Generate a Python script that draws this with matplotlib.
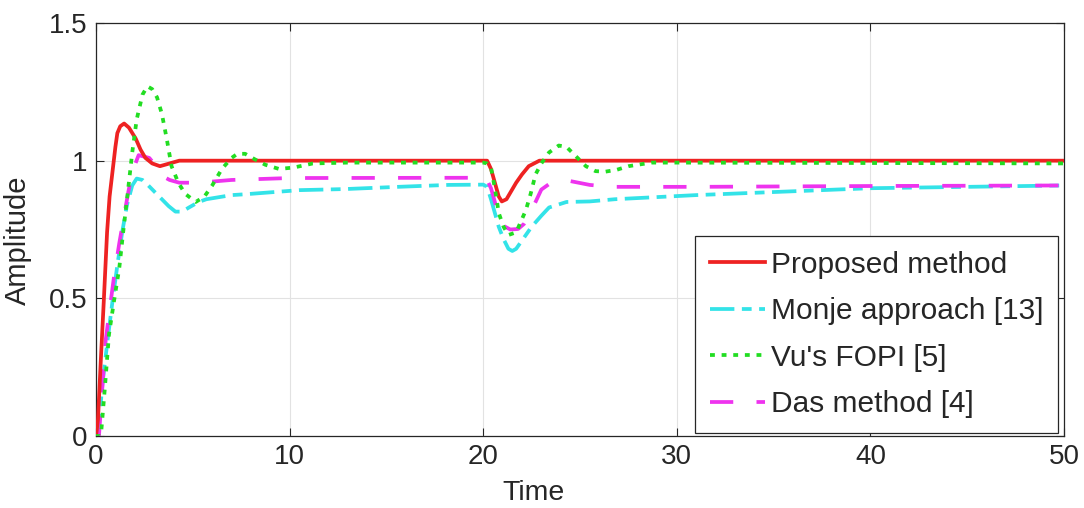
import matplotlib.pyplot as plt

plt.rcParams['font.family'] = ['Liberation Sans', 'DejaVu Sans']

# Proposed method
t_prop = [0, 0.1, 0.25, 0.4, 0.57, 0.7, 0.85, 1.0, 1.1, 1.25, 1.45, 1.7, 2.05, 2.3, 2.55, 2.9,
          3.3, 3.8, 4.3, 5, 10, 20.2, 20.4, 20.6, 20.8, 20.96, 21.2, 21.45, 21.7, 22.0, 22.35,
          22.9, 24, 30, 50]
y_prop = [0, 0.06, 0.28, 0.49, 0.74, 0.87, 0.96, 1.05, 1.1, 1.125, 1.135, 1.12, 1.08, 1.04, 1.01,
          0.99, 0.98, 0.99, 1.0, 1.0, 1.0, 1.0, 0.97, 0.92, 0.87, 0.852, 0.86, 0.89, 0.92, 0.95, 0.98,
          1.0, 1.0, 1.0, 1.0]

# Monje approach [13]
t_monje = [0, 0.1, 0.33, 0.6, 0.85, 1.1, 1.35, 1.6, 1.87, 2.1, 2.4, 2.7, 3.05, 3.4, 3.75, 4.1,
           4.45, 4.8, 5.3, 5.7, 7.0, 7.7, 10.5, 12.9, 15.6, 18.2, 20.0, 20.2, 20.4, 20.6, 20.8,
           21.05, 21.3, 21.5, 21.7, 22.1, 22.5, 23.0, 23.4, 24.3, 25.5, 26.8, 31, 40, 50]
y_monje = [0, 0.0, 0.19, 0.35, 0.49, 0.62, 0.74, 0.84, 0.91, 0.935, 0.93, 0.91, 0.885, 0.86, 0.835,
           0.815, 0.815, 0.83, 0.85, 0.86, 0.875, 0.878, 0.893, 0.897, 0.905, 0.912, 0.913, 0.905,
           0.86, 0.81, 0.76, 0.715, 0.68, 0.672, 0.68, 0.72, 0.76, 0.8, 0.83, 0.85, 0.852, 0.86,
           0.875, 0.9, 0.91]

# Vu's FOPI [5]
t_vu = [0, 0.25, 0.45, 0.67, 0.95, 1.2, 1.4, 1.6, 1.87, 2.1, 2.4, 2.65, 2.9, 3.15, 3.4, 3.65,
        3.9, 4.25, 4.6, 5.15, 5.6, 6.0, 6.5, 7.0, 7.3, 7.7, 8.2, 8.75, 9.45, 10.2, 11.2, 13, 20.0,
        20.2, 20.4, 20.6, 20.8, 21.05, 21.3, 21.7, 22.2, 22.45, 22.7, 23.0, 23.4, 23.9, 24.3, 24.8,
        25.3, 25.8, 26.3, 26.9, 27.5, 28.7, 30, 50]
y_vu = [0, 0.0, 0.17, 0.37, 0.5, 0.61, 0.74, 0.86, 1.03, 1.15, 1.24, 1.27, 1.26, 1.23, 1.17, 1.08,
        0.98, 0.92, 0.88, 0.85, 0.87, 0.91, 0.97, 1.01, 1.025, 1.025, 1.005, 0.985, 0.97, 0.975,
        0.99, 0.993, 0.993, 0.99, 0.975, 0.9, 0.81, 0.76, 0.73, 0.74, 0.82, 0.88, 0.95, 0.99, 1.03,
        1.055, 1.05, 1.015, 0.98, 0.962, 0.96, 0.967, 0.98, 0.993, 0.993, 0.99]

# Das method [4]
t_das = [0, 0.15, 0.5, 0.93, 1.2, 1.45, 1.65, 1.87, 2.2, 2.75, 3.1, 3.4, 3.8, 4.3, 5.3, 7, 10,
         20.0, 20.2, 20.4, 20.6, 20.8, 21.0, 21.4, 21.8, 22.1, 22.35, 22.7, 23.0, 23.5, 24.2,
         25.5, 26.6, 31, 40, 50]
y_das = [0, 0.0, 0.35, 0.58, 0.7, 0.8, 0.88, 0.96, 1.02, 1.01, 0.98, 0.945, 0.93, 0.92, 0.92, 0.93,
         0.937, 0.938, 0.93, 0.9, 0.85, 0.8, 0.765, 0.75, 0.752, 0.77, 0.8, 0.85, 0.895, 0.92,
         0.93, 0.912, 0.905, 0.905, 0.908, 0.91]

fig = plt.figure(figsize=(10.84, 5.08), dpi=100)
ax = fig.add_axes([0.0886, 0.1417, 0.8930, 0.8130])

lw = 2.7
ax.plot(t_prop, y_prop, color='#ee2222', linewidth=lw, label='Proposed method', zorder=5)
ax.plot(t_monje, y_monje, color='#33e3e8', linewidth=lw, dashes=(6.5, 2, 2.6, 2), label='Monje approach [13]')
ax.plot(t_vu, y_vu, color='#22dd22', linewidth=lw, dashes=(1.3, 1.8), label="Vu's FOPI [5]", zorder=6)
ax.plot(t_das, y_das, color='#ee33ee', linewidth=lw, dashes=(6.2, 6.2), label='Das method [4]')

ax.set_xlim(0, 50)
ax.set_ylim(0, 1.5)
ax.set_xticks([0, 10, 20, 30, 40, 50])
ax.set_yticks([0, 0.5, 1, 1.5])
ax.set_yticklabels(['0', '0.5', '1', '1.5'])
ax.grid(True, color='#e2e2e2', linewidth=0.8)
ax.set_axisbelow(True)
ax.tick_params(direction='in', length=6, width=0.8, labelsize=20, colors='#262626',
               top=True, right=True, pad=6)
for s in ax.spines.values():
    s.set_color('#262626')
    s.set_linewidth(0.9)

ax.set_xlabel('Time', fontsize=20.5, color='#262626')
ax.set_ylabel('Amplitude', fontsize=21, color='#262626')
ax.xaxis.set_label_coords(0.452, -0.106)
ax.yaxis.set_label_coords(-0.066, 0.475)

leg = ax.legend(loc='lower right', bbox_to_anchor=(0.994, 0.007), borderaxespad=0,
                fontsize=21.5, handlelength=1.85, handletextpad=0.2, labelspacing=0.62,
                fancybox=False, framealpha=1, edgecolor='#262626', borderpad=0.5)
leg.get_frame().set_linewidth(0.9)
for txt in leg.get_texts():
    txt.set_color('#262626')

fig.savefig('out.png', dpi=100)
